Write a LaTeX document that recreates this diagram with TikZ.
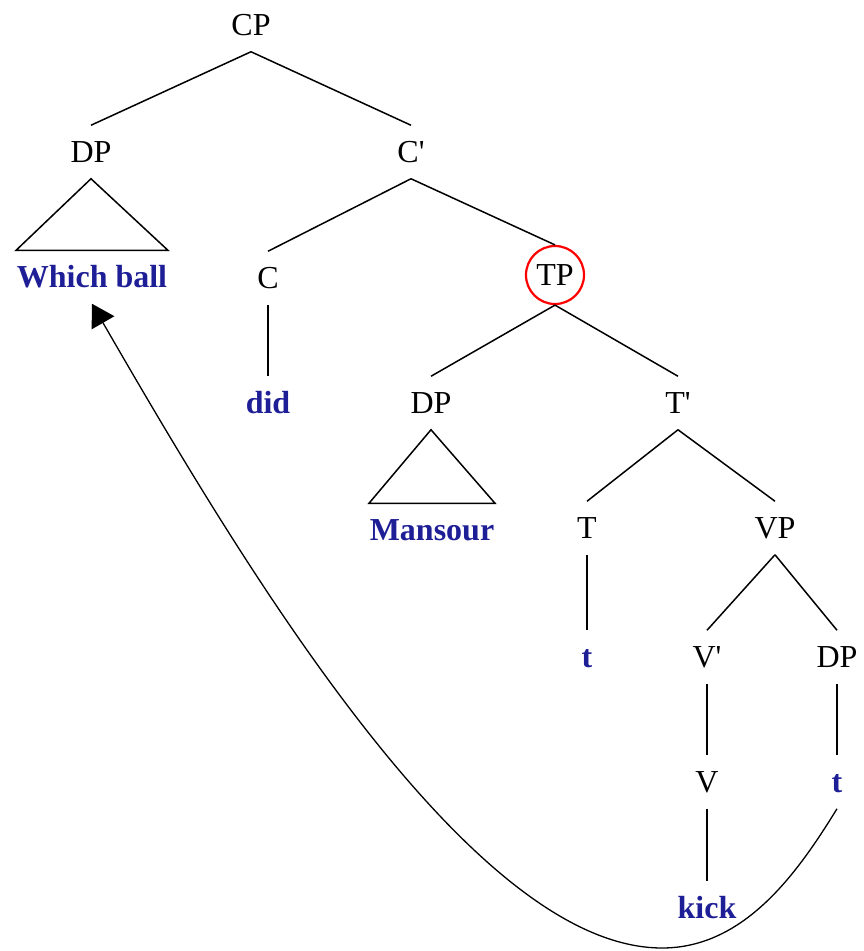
\documentclass[tikz,border=0pt]{standalone}
\usepackage{fontspec}
\setmainfont{Liberation Serif}
\usetikzlibrary{arrows.meta}

\definecolor{leafblue}{RGB}{30,30,150}

\begin{document}
\begin{tikzpicture}[x=1pt, y=-1pt, line width=1.5pt,
  cat/.style={inner sep=0pt, text height=36pt, text depth=16pt,
    font=\fontsize{32}{38}\selectfont},
  leaf/.style={cat, text=leafblue, font=\fontsize{32}{38}\selectfont\bfseries},
  ring/.style={circle, draw=red, line width=2.2pt, inner sep=0pt,
    minimum size=58pt, text height=21pt, text depth=0pt,
    font=\fontsize{32}{38}\selectfont},
]
  \useasboundingbox (0,0) rectangle (863,951);
  \node[cat]  (cp)      at (251,25)  {CP};
  \node[cat]  (dpa)     at (91,152)  {DP};
  \node[cat]  (cbar)    at (411,152) {C\textquotesingle};
  \node[leaf] (wb)      at (92,277)  {Which ball};
  \node[cat]  (c)       at (268,278) {C};
  \node[ring] (tp)      at (555,275) {TP};
  \node[leaf] (did)     at (268,403) {did};
  \node[cat]  (dpb)     at (431,403) {DP};
  \node[cat]  (tbar)    at (678,403) {T\textquotesingle};
  \node[leaf] (mansour) at (432,530) {Mansour};
  \node[cat]  (t)       at (587,528) {T};
  \node[cat]  (vp)      at (775,528) {VP};
  \node[leaf] (tt)      at (587,657) {t};
  \node[cat]  (vbar)    at (707,657) {V\textquotesingle};
  \node[cat]  (dpc)     at (837,657) {DP};
  \node[cat]  (v)       at (707,782) {V};
  \node[leaf] (tr)      at (837,782) {t};
  \node[leaf] (kick)    at (707,908) {kick};
  % 树枝
  \foreach \a/\b in {cp/dpa, cp/cbar, cbar/c, cbar/tp, tp/dpb, tp/tbar,
                     tbar/t, tbar/vp, vp/vbar, vp/dpc,
                     c/did, t/tt, vbar/v, v/kick, dpc/tr}
    \draw (\a.south) -- (\b.north);
  \foreach \a/\b in {dpa/wb, dpb/mansour}
    \draw (\a.south) -- (\b.north west) -- (\b.north east) -- cycle;
  % 移位箭头
  \draw[line width=1.3pt, -{Triangle[length=22pt,width=26pt]}] (tr.south)
    .. controls (798,872) and (745,948) .. (662,948)
    .. controls (470,948) and (240,560) .. (wb.south);
\end{tikzpicture}
\end{document}
